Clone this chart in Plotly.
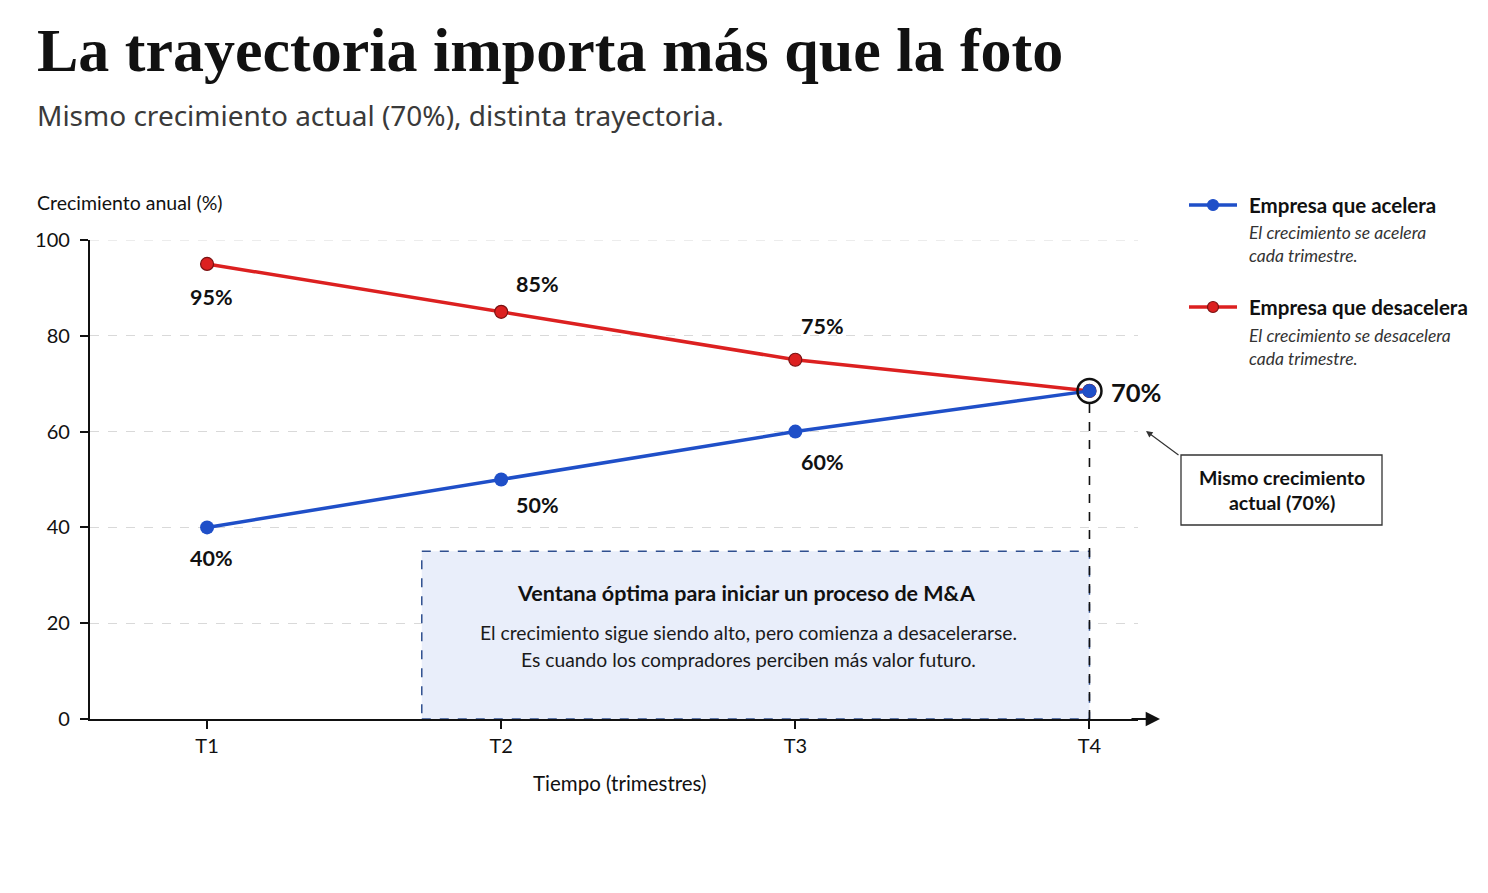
import plotly.graph_objects as go

# ---------------- data ----------------
categories = ["T1", "T2", "T3", "T4"]
acelera = [40, 50, 60, 68.5]
desacelera = [95, 85, 75, 68.5]
acelera_labels = ["40%", "50%", "60%", "70%"]
desacelera_labels = ["95%", "85%", "75%", "70%"]
y_ticks = [0, 20, 40, 60, 80, 100]
window_start = 0.73   # category-index position where the M&A window begins
window_top = 35

title = "La trayectoria importa más que la foto"
subtitle = "Mismo crecimiento actual (70%), distinta trayectoria."

BLUE = "#1f4fc8"
RED = "#dc2020"
RED_EDGE = "#7a1212"
INK = "#111111"
FONT = "Lato"
GRID = "#d9d9d9"

OFF = 8                      # default page body margin
W, H = 1488 - OFF, 893 - OFF
L, R, T, B = 90, 1138, 240, 719  # plot area in page pixels
PW, PH = R - L, B - T


def px(x):
    return (x - L) / PW


def py(y):
    return (B - y) / PH


fig = go.Figure()

fig.add_trace(go.Scatter(
    x=categories, y=desacelera, mode="lines+markers",
    line=dict(color=RED, width=3.5),
    marker=dict(size=13, color=RED, line=dict(color=RED_EDGE, width=1.2)),
    showlegend=False, hoverinfo="skip", cliponaxis=False,
))
fig.add_trace(go.Scatter(
    x=categories, y=acelera, mode="lines+markers",
    line=dict(color=BLUE, width=3.5),
    marker=dict(size=14, color=BLUE),
    showlegend=False, hoverinfo="skip", cliponaxis=False,
))
last = len(categories) - 1
fig.add_trace(go.Scatter(
    x=[categories[last]], y=[acelera[last]], mode="markers",
    marker=dict(size=24, color="rgba(0,0,0,0)", line=dict(color=INK, width=2.5)),
    showlegend=False, hoverinfo="skip", cliponaxis=False,
))

shapes = []
# top gridline (plotly hides the one on the plot edge)
shapes.append(dict(
    type="line", xref="paper", yref="y", x0=0, x1=1, y0=y_ticks[-1], y1=y_ticks[-1],
    line=dict(color=GRID, width=1, dash="dash"), layer="below",
))
shapes.append(dict(
    type="rect", xref="x", yref="y", x0=window_start, x1=last, y0=0, y1=window_top,
    fillcolor="#e9eefa", line=dict(color="#2f4f8f", width=1.5, dash="dash"),
    layer="between",
))
shapes.append(dict(
    type="line", xref="x", yref="y", x0=last, x1=last, y0=0, y1=acelera[last] - 2.6,
    line=dict(color=INK, width=1.6, dash="dash"), layer="above",
))

annotations = []
annotations.append(dict(
    text=f"<b>{title}</b>", xref="paper", yref="paper", x=px(35), y=py(50),
    xanchor="left", yanchor="middle", showarrow=False,
    font=dict(family="Liberation Serif", size=62, color=INK),
))
annotations.append(dict(
    text=subtitle, xref="paper", yref="paper", x=px(35), y=py(115),
    xanchor="left", yanchor="middle", showarrow=False,
    font=dict(family="Noto Sans", size=28, color="#3a3a3a"),
))
annotations.append(dict(
    text="Crecimiento anual (%)", xref="paper", yref="paper", x=px(35), y=py(203),
    xanchor="left", yanchor="middle", showarrow=False,
    font=dict(family=FONT, size=19.5, color=INK),
))
annotations.append(dict(
    text="Tiempo (trimestres)", xref="paper", yref="paper", x=px(620), y=py(783),
    xanchor="center", yanchor="middle", showarrow=False,
    font=dict(family=FONT, size=20.5, color=INK),
))
annotations.append(dict(
    text="", xref="paper", yref="paper", x=px(1160), y=0, ax=-30, ay=0,
    axref="pixel", ayref="pixel", showarrow=True, arrowhead=2, arrowsize=1.3,
    arrowwidth=2.2, arrowcolor=INK,
))

lab_font = dict(family=FONT, size=21.5, color=INK)
red_shift = [(4, -33), (36, 28), (27, 34)]
blue_shift = [(4, -31), (36, -25), (27, -30)]
for i in range(3):
    annotations.append(dict(
        text=f"<b>{desacelera_labels[i]}</b>", x=categories[i], y=desacelera[i],
        xref="x", yref="y", showarrow=False, xshift=red_shift[i][0], yshift=red_shift[i][1],
        font=lab_font,
    ))
    annotations.append(dict(
        text=f"<b>{acelera_labels[i]}</b>", x=categories[i], y=acelera[i],
        xref="x", yref="y", showarrow=False, xshift=blue_shift[i][0], yshift=blue_shift[i][1],
        font=lab_font,
    ))
annotations.append(dict(
    text=f"<b>{acelera_labels[last]}</b>", x=categories[last], y=acelera[last],
    xref="x", yref="y", showarrow=False, xanchor="left", xshift=20, yshift=-1,
    font=dict(family=FONT, size=25.5, color=INK),
))

annotations.append(dict(
    text="<b>Ventana óptima para iniciar un proceso de M&A</b>", xref="paper", yref="paper",
    x=px(746), y=py(593), yanchor="middle", showarrow=False,
    font=dict(family=FONT, size=21.5, color=INK),
))
for txt, yy in [("El crecimiento sigue siendo alto, pero comienza a desacelerarse.", 632),
                ("Es cuando los compradores perciben más valor futuro.", 659)]:
    annotations.append(dict(
        text=txt, xref="paper", yref="paper", x=px(748), y=py(yy), yanchor="middle",
        showarrow=False, font=dict(family=FONT, size=19.3, color="#1a1a1a"),
    ))

legend_items = [
    ("Empresa que acelera", ["El crecimiento se acelera", "cada trimestre."], BLUE, None, 205),
    ("Empresa que desacelera", ["El crecimiento se desacelera", "cada trimestre."], RED, RED_EDGE, 307),
]
for name, desc, col, edge, yy in legend_items:
    shapes.append(dict(
        type="line", xref="paper", yref="paper", x0=px(1189), x1=px(1237), y0=py(yy), y1=py(yy),
        line=dict(color=col, width=3.5),
    ))
    shapes.append(dict(
        type="circle", xref="paper", yref="paper", xsizemode="pixel", ysizemode="pixel",
        xanchor=px(1213), yanchor=py(yy), x0=-5.5, x1=5.5, y0=-5.5, y1=5.5,
        fillcolor=col, line=dict(color=edge if edge else col, width=1.2),
    ))
    annotations.append(dict(
        text=f"<b>{name}</b>", xref="paper", yref="paper", x=px(1247), y=py(yy),
        xanchor="left", yanchor="middle", showarrow=False,
        font=dict(family=FONT, size=20.5, color=INK),
    ))
    for k, line in enumerate(desc):
        annotations.append(dict(
            text=f"<i>{line}</i>", xref="paper", yref="paper", x=px(1247), y=py(yy + 28 + 23 * k),
            xanchor="left", yanchor="middle", showarrow=False,
            font=dict(family=FONT, size=17.5, color="#333333"),
        ))

shapes.append(dict(
    type="rect", xref="paper", yref="paper", x0=px(1181), x1=px(1382), y0=py(525), y1=py(455),
    fillcolor="white", line=dict(color="#333333", width=1.3),
))
annotations.append(dict(
    text="<b>Mismo crecimiento<br>actual (70%)</b>", xref="paper", yref="paper",
    x=px(1281.5), y=py(490), xanchor="center", yanchor="middle", showarrow=False,
    font=dict(family=FONT, size=19.5, color=INK),
))
annotations.append(dict(
    text="", xref="paper", yref="paper", x=px(1146), y=py(431), ax=34, ay=25,
    axref="pixel", ayref="pixel", showarrow=True, arrowhead=2, arrowsize=1.1,
    arrowwidth=1.2, arrowcolor="#333333",
))

fig.update_layout(
    width=W, height=H,
    margin=dict(l=L - OFF, r=W - (R - OFF), t=T - OFF, b=H - (B - OFF), pad=0),
    paper_bgcolor="white", plot_bgcolor="white",
    shapes=shapes, annotations=annotations,
    font=dict(family=FONT, color=INK),
)
fig.update_xaxes(
    type="category", categoryorder="array", categoryarray=categories,
    range=[-0.398, 3.165], showgrid=False, zeroline=False,
    showline=True, linecolor=INK, linewidth=2.2,
    ticks="outside", ticklen=8, tickwidth=1.6, tickcolor=INK,
    tickfont=dict(family=FONT, size=20, color=INK), ticklabelstandoff=0,
)
fig.update_yaxes(
    range=[0, 100], tickvals=y_ticks, showgrid=True, gridcolor=GRID,
    griddash="dash", gridwidth=1, zeroline=False,
    showline=True, linecolor=INK, linewidth=2.2,
    ticks="outside", ticklen=8, tickwidth=1.6, tickcolor=INK,
    tickfont=dict(family=FONT, size=20, color=INK), ticklabelstandoff=6,
)

fig.write_html("out.html")
